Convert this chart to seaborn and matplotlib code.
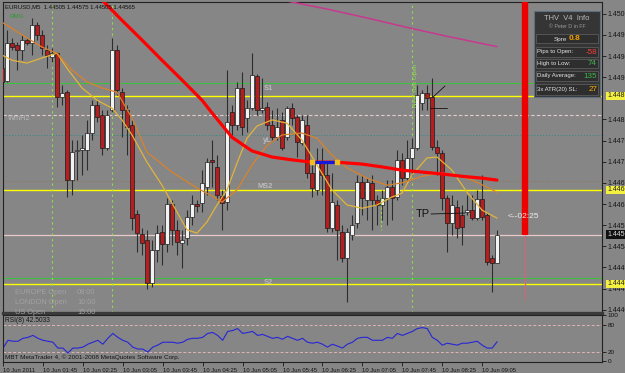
import numpy as np
import pandas as pd
import seaborn as sns
import matplotlib.pyplot as plt
from matplotlib.patches import Rectangle

# EURUSD M5 bars, 10 Jun 2011 from 01:05
opens = [1.44919, 1.44892, 1.44973, 1.44968, 1.44958, 1.44979, 1.44973, 1.45011, 1.44990, 1.44958,
         1.44943, 1.44951, 1.44858, 1.44868, 1.44681, 1.44743, 1.44745, 1.44745, 1.44781, 1.44841,
         1.44819, 1.44749, 1.44830, 1.44958, 1.44868, 1.44830, 1.44798, 1.44609, 1.44566, 1.44553,
         1.44462, 1.44532, 1.44570, 1.44545, 1.44630, 1.44575, 1.44547, 1.44558, 1.44602, 1.44630,
         1.44632, 1.44666, 1.44724, 1.44709, 1.44647, 1.44634, 1.44826, 1.44798, 1.44877, 1.44813,
         1.44834, 1.44902, 1.44830, 1.44836, 1.44798, 1.44772, 1.44809, 1.44772, 1.44834, 1.44815,
         1.44760, 1.44798, 1.44696, 1.44660, 1.44717, 1.44692, 1.44579, 1.44628, 1.44570, 1.44515,
         1.44564, 1.44589, 1.44677, 1.44638, 1.44675, 1.44638, 1.44628, 1.44643, 1.44666, 1.44645,
         1.44724, 1.44685, 1.44728, 1.44749, 1.44845, 1.44866, 1.44858, 1.44751, 1.44738, 1.44643,
         1.44589, 1.44624, 1.44607, 1.44613, 1.44617, 1.44600, 1.44641, 1.44607, 1.44515, 1.44505]
highs = [1.44926, 1.45000, 1.44983, 1.44975, 1.44990, 1.44983, 1.45026, 1.45017, 1.45000, 1.44968,
         1.44962, 1.44953, 1.44883, 1.44872, 1.44766, 1.44766, 1.44777, 1.44809, 1.44851, 1.44851,
         1.44830, 1.44830, 1.44983, 1.44968, 1.44877, 1.44841, 1.44809, 1.44617, 1.44579, 1.44575,
         1.44553, 1.44585, 1.44585, 1.44643, 1.44638, 1.44596, 1.44575, 1.44617, 1.44649, 1.44638,
         1.44702, 1.44728, 1.44766, 1.44734, 1.44660, 1.44915, 1.44841, 1.44890, 1.44911, 1.44851,
         1.44951, 1.44907, 1.44898, 1.44847, 1.44830, 1.44834, 1.44826, 1.44838, 1.44845, 1.44819,
         1.44819, 1.44819, 1.44713, 1.44749, 1.44749, 1.44717, 1.44696, 1.44638, 1.44585, 1.44579,
         1.44607, 1.44692, 1.44692, 1.44685, 1.44692, 1.44649, 1.44660, 1.44681, 1.44681, 1.44745,
         1.44738, 1.44766, 1.44770, 1.44883, 1.44872, 1.44883, 1.44898, 1.44766, 1.44745, 1.44649,
         1.44649, 1.44638, 1.44628, 1.44649, 1.44649, 1.44660, 1.44692, 1.44611, 1.44521, 1.44575]
lows = [1.44885, 1.44890, 1.44958, 1.44915, 1.44936, 1.44968, 1.44947, 1.44979, 1.44947, 1.44919,
        1.44932, 1.44836, 1.44841, 1.44645, 1.44649, 1.44681, 1.44692, 1.44702, 1.44766, 1.44804,
        1.44734, 1.44745, 1.44826, 1.44862, 1.44772, 1.44734, 1.44575, 1.44528, 1.44521, 1.44449,
        1.44453, 1.44506, 1.44500, 1.44528, 1.44543, 1.44521, 1.44494, 1.44543, 1.44585, 1.44613,
        1.44613, 1.44649, 1.44666, 1.44638, 1.44575, 1.44617, 1.44777, 1.44787, 1.44777, 1.44783,
        1.44830, 1.44819, 1.44824, 1.44787, 1.44766, 1.44766, 1.44745, 1.44766, 1.44798, 1.44730,
        1.44755, 1.44685, 1.44645, 1.44649, 1.44649, 1.44570, 1.44570, 1.44511, 1.44506, 1.44421,
        1.44553, 1.44579, 1.44607, 1.44596, 1.44575, 1.44585, 1.44596, 1.44585, 1.44596, 1.44638,
        1.44670, 1.44681, 1.44692, 1.44745, 1.44830, 1.44830, 1.44745, 1.44692, 1.44617, 1.44528,
        1.44564, 1.44558, 1.44543, 1.44607, 1.44596, 1.44596, 1.44596, 1.44500, 1.44443, 1.44505]
closes = [1.44890, 1.44973, 1.44964, 1.44958, 1.44979, 1.44973, 1.45011, 1.44990, 1.44962, 1.44947,
          1.44951, 1.44858, 1.44866, 1.44681, 1.44740, 1.44745, 1.44749, 1.44781, 1.44841, 1.44815,
          1.44749, 1.44819, 1.44958, 1.44872, 1.44830, 1.44794, 1.44600, 1.44568, 1.44547, 1.44462,
          1.44532, 1.44568, 1.44545, 1.44630, 1.44575, 1.44549, 1.44553, 1.44602, 1.44630, 1.44626,
          1.44675, 1.44719, 1.44719, 1.44649, 1.44632, 1.44804, 1.44798, 1.44877, 1.44794, 1.44834,
          1.44904, 1.44830, 1.44834, 1.44798, 1.44772, 1.44794, 1.44749, 1.44834, 1.44813, 1.44762,
          1.44809, 1.44696, 1.44664, 1.44717, 1.44692, 1.44579, 1.44634, 1.44575, 1.44515, 1.44570,
          1.44585, 1.44677, 1.44643, 1.44677, 1.44638, 1.44628, 1.44643, 1.44666, 1.44643, 1.44724,
          1.44685, 1.44728, 1.44749, 1.44862, 1.44866, 1.44855, 1.44751, 1.44738, 1.44643, 1.44589,
          1.44628, 1.44579, 1.44581, 1.44617, 1.44600, 1.44641, 1.44602, 1.44506, 1.44504, 1.44565]

rsi = [28.5, 45.6, 43.5, 43.5, 49.9, 52.0, 56.3, 49.9, 45.6, 43.5,
       41.3, 28.5, 28.5, 17.8, 28.5, 28.5, 30.6, 37.0, 41.3, 45.6,
       37.0, 49.9, 60.6, 52.0, 45.6, 41.3, 30.6, 26.3, 26.3, 19.9,
       30.6, 34.9, 41.3, 41.3, 41.3, 39.2, 41.3, 47.8, 49.9, 49.9,
       52.0, 60.6, 62.7, 56.3, 45.6, 64.9, 67.0, 71.3, 60.6, 62.7,
       64.9, 56.3, 58.5, 54.2, 49.9, 52.0, 47.8, 54.2, 49.9, 45.6,
       49.9, 41.3, 39.2, 41.3, 37.0, 30.6, 37.0, 32.8, 28.5, 37.0,
       41.3, 49.9, 52.0, 52.0, 45.6, 45.6, 45.6, 52.0, 49.9, 60.6,
       56.3, 60.6, 64.9, 71.3, 73.4, 71.3, 52.0, 45.6, 34.9, 39.2,
       37.0, 34.9, 39.2, 39.2, 41.3, 43.5, 34.9, 28.5, 28.5, 42.5]

# moving averages (bar index, price)
red_ma_bar = [19, 24, 28, 32, 36, 40, 42, 46, 50, 54, 58, 62, 67, 72, 76, 80, 84, 88, 92, 96, 99]
red_ma = [1.45075, 1.45021, 1.44979, 1.44936, 1.44894, 1.44851, 1.44824, 1.44772, 1.44743, 1.44730,
          1.44724, 1.44719, 1.44719, 1.44715, 1.44709, 1.44702, 1.44698, 1.44694, 1.44689, 1.44685, 1.44681]
flat_bar = [62, 67]
flat_ma = [1.44719, 1.44719]
pink_ma_bar = [57, 65, 73, 81, 89, 99]
pink_ma = [1.45062, 1.45045, 1.45026, 1.45006, 1.44987, 1.44965]
slow_bar = [0, 4, 8, 11, 14, 17, 20, 23, 26, 29, 34, 39, 42, 44, 47, 50, 53, 56, 60, 63,
            66, 69, 73, 77, 80, 84, 88, 91, 94, 97, 99]
slow_ma = [1.45017, 1.44990, 1.44964, 1.44951, 1.44915, 1.44890, 1.44877, 1.44868, 1.44813, 1.44740,
           1.44698, 1.44664, 1.44647, 1.44634, 1.44660, 1.44713, 1.44755, 1.44777, 1.44781, 1.44770,
           1.44734, 1.44707, 1.44685, 1.44670, 1.44675, 1.44689, 1.44696, 1.44692, 1.44681, 1.44666, 1.44655]
fast_bar = [0, 2, 5, 8, 11, 13, 16, 19, 22, 24, 26, 29, 32, 35, 37, 39, 41, 43, 45, 47,
            49, 51, 54, 57, 60, 63, 66, 69, 72, 75, 78, 80, 82, 85, 87, 90, 93, 96, 99]
fast_ma = [1.44947, 1.44936, 1.44930, 1.44941, 1.44951, 1.44919, 1.44877, 1.44851, 1.44834, 1.44809,
           1.44777, 1.44719, 1.44670, 1.44613, 1.44575, 1.44568, 1.44592, 1.44628, 1.44660, 1.44717,
           1.44770, 1.44796, 1.44809, 1.44802, 1.44766, 1.44713, 1.44660, 1.44628, 1.44621, 1.44628,
           1.44645, 1.44653, 1.44692, 1.44728, 1.44730, 1.44702, 1.44655, 1.44617, 1.44600]

# pivot / level lines
yellow_levels = [1.44860, 1.44660, 1.44460]
green_levels = [1.44887, 1.44472]
wmh_level = 1.44819
teal_level = 1.44777
brown_level = 1.44679
price_now = 1.44565
session_bars = [10, 22, 82]

price_ticks = [1.44405, 1.44450, 1.44495, 1.44540, 1.44585, 1.44630, 1.44675, 1.44720,
               1.44765, 1.44810, 1.44900, 1.44945, 1.44990, 1.45035]
time_bars = [0, 8, 16, 24, 32, 40, 48, 56, 64, 72, 80, 88, 96]
time_labels = ["10 Jun 2011", "10 Jun 01:45", "10 Jun 02:25", "10 Jun 03:05", "10 Jun 03:45",
               "10 Jun 04:25", "10 Jun 05:05", "10 Jun 05:45", "10 Jun 06:25", "10 Jun 07:05",
               "10 Jun 07:45", "10 Jun 08:25", "10 Jun 09:05"]

sns.set_style("white")
plt.rcParams["font.family"] = ["Liberation Sans", "DejaVu Sans"]

BG = "#868686"
W, H = 625, 373
fig = plt.figure(figsize=(W / 100, H / 100), dpi=100, facecolor=BG)
ax = fig.add_axes([3 / W, 1 - 313 / H, 599 / W, 311 / H], facecolor=BG)
ax_rsi = fig.add_axes([3 / W, 1 - 362 / H, 599 / W, 47 / H], facecolor=BG)

df = pd.DataFrame({"bar": np.arange(len(opens)), "open": opens, "high": highs,
                   "low": lows, "close": closes})
up = df["close"] >= df["open"]

# horizontal levels
for lv in yellow_levels:
    ax.axhline(lv, color="#ffff00", lw=1.0, zorder=1)
for lv in green_levels:
    ax.axhline(lv, color="#3fbf3f", lw=0.8, zorder=1)
ax.axhline(wmh_level, color="#e6cccc", lw=0.8, ls=(0, (3, 2)), zorder=1)
ax.axhline(teal_level, color="#2a8a8a", lw=0.7, ls=(0, (1, 2)), zorder=1)
ax.axhline(brown_level, color="#8f7556", lw=0.7, ls=(0, (1, 2)), zorder=1)
ax.axhline(price_now, color="#e9c9c9", lw=0.9, zorder=1)
for b in session_bars:
    ax.axvline(b, color="#8ee04a", lw=0.8, ls=(0, (2, 3)), zorder=1)

# candles
ax.vlines(df["bar"], df["low"], df["high"], color="#2d2d2d", lw=0.8, zorder=3)
body_lo = df[["open", "close"]].min(axis=1)
body_h = (df["close"] - df["open"]).abs().clip(lower=0.000025)
ax.bar(df["bar"], body_h, bottom=body_lo, width=0.62,
       color=np.where(up, "#f2f2f2", "#b41e1e"), edgecolor="#1b1b1b", linewidth=0.5, zorder=4)

# moving averages
sns.lineplot(x=fast_bar, y=fast_ma, ax=ax, color="#e2b43a", lw=0.9, zorder=5)
sns.lineplot(x=slow_bar, y=slow_ma, ax=ax, color="#d9822b", lw=0.9, zorder=5)
sns.lineplot(x=pink_ma_bar, y=pink_ma, ax=ax, color="#c8388e", lw=1.1, zorder=5)
sns.lineplot(x=red_ma_bar, y=red_ma, ax=ax, color="#ff0000", lw=2.3, zorder=6)
sns.lineplot(x=flat_bar, y=flat_ma, ax=ax, color="#1818d8", lw=2.3, zorder=7)
ax.scatter(flat_bar, flat_ma, s=5, marker="s", color="#f0c020", zorder=8)

# time marker bar
ax.vlines(104.6, price_now, 1.4507, color="#ee0000", lw=4.6, zorder=6)
ax.vlines(104.6, 1.44426, price_now, color="#c86a7a", lw=0.9, zorder=6)

ax.set_xlim(0.2, 120)
ax.set_ylim(1.44398, 1.45060)
ax.set_xticks([])
ax.yaxis.tick_right()
ax.set_yticks(price_ticks)
ax.set_yticklabels([f"{v:.5f}" for v in price_ticks])
ax.tick_params(axis="y", length=3, width=0.6, pad=1, labelsize=5, colors="#151515")
ax.set_xlabel("")
ax.set_ylabel("")
for s in ax.spines.values():
    s.set_color("#222222")
    s.set_linewidth(0.8)
ax.spines["bottom"].set_linewidth(2.4)
ax.spines["bottom"].set_color("#3a3a3a")

for lv, fc, tc in [(1.44860, "#f4f040", "#222222"), (1.44660, "#f4f040", "#222222"),
                   (1.44460, "#f4f040", "#222222"), (price_now, "#111111", "#dddddd")]:
    ax.annotate(f"{lv:.5f}", xy=(1.0, lv), xycoords=("axes fraction", "data"), xytext=(3.6, 0),
                textcoords="offset points", fontsize=5, va="center", ha="left", color=tc,
                bbox=dict(boxstyle="square,pad=0.12", fc=fc, ec="none"), annotation_clip=False,
                zorder=10)

# RSI panel
ax_rsi.axhline(80, color="#e2b4b4", lw=0.7, ls=(0, (3, 2)))
ax_rsi.axhline(20, color="#e2b4b4", lw=0.7, ls=(0, (3, 2)))
sns.lineplot(x=df["bar"], y=rsi, ax=ax_rsi, color="#2626d6", lw=0.8)
ax_rsi.set_xlim(0.2, 120)
ax_rsi.set_ylim(-2, 101)
ax_rsi.yaxis.tick_right()
ax_rsi.set_yticks([0, 20, 80, 100])
ax_rsi.set_yticklabels(["0", "20", "80", "100"])
ax_rsi.tick_params(axis="y", length=3, width=0.6, pad=1, labelsize=4.6, colors="#151515")
ax_rsi.set_xticks(time_bars)
ax_rsi.set_xticklabels(time_labels, ha="left")
ax_rsi.tick_params(axis="x", length=3, width=0.6, pad=1, labelsize=4.2, colors="#151515",
                   bottom=True)
ax_rsi.set_xlabel("")
ax_rsi.set_ylabel("")
for s in ax_rsi.spines.values():
    s.set_color("#222222")
    s.set_linewidth(0.8)

# overlay in pixel units for chart texts and drawn objects
ov = fig.add_axes([0, 0, 1, 1], zorder=20)
ov.set_xlim(0, W)
ov.set_ylim(H, 0)
ov.axis("off")
ov.patch.set_alpha(0)

ov.text(5, 7, "EURUSD,M5  1.44505 1.44575 1.44505 1.44565", fontsize=4.3, color="#111111", va="center")
ov.text(9, 17, "RMG", fontsize=4.5, color="#2f9a2f", va="center")
ov.text(8, 119, "WmH2", fontsize=5.3, color="#b8b8b8", va="center")
for t, x, y in [("S1", 264, 89), ("yL", 263, 140), ("MS2", 257, 186), ("S2", 264, 283)]:
    ov.text(x, y, t, fontsize=5.3, color="#bdbdbd", va="center", fontweight="bold")
for i, (a, b) in enumerate([("EUROPE Open", "08:00"), ("LONDON Open", "10:00"), ("US Open", "15:00")]):
    ov.text(15, 293 + 9.5 * i, a, fontsize=5.3, color="#a2a2a2", va="center")
    ov.text(77, 293 + 9.5 * i, b, fontsize=5.3, color="#a2a2a2", va="center")
ov.text(415, 85, "New York Open", fontsize=4.5, color="#8ee04a", rotation=90, va="center", ha="center")
ov.plot([381, 381], [198, 230], color="#8ee04a", lw=0.8, ls=(0, (2, 2)))
ov.text(508, 216, "<--02:25", fontsize=6, color="#ececec", va="center")

# hand drawn marks
ov.text(416, 214, "TP", fontsize=8, color="#111111", va="center", fontweight="light")
ov.plot([431, 465], [214, 213], color="#111111", lw=0.6)
ov.plot([430, 447], [108, 108], color="#111111", lw=0.6)
ov.plot([433, 445], [97, 86], color="#111111", lw=0.6)

# info panel
ov.add_patch(Rectangle((534, 11), 66, 86, fc="#353535", ec="#5e6e7e", lw=0.8))
ov.text(567, 18, "THV  V4  Info", fontsize=5.4, color="#bcbcbc", ha="center", va="center")
ov.text(567, 26, "© Peter D in FF", fontsize=3.8, color="#9a9a9a", ha="center", va="center")
rows = [(34, 43), (47, 57), (59, 68), (71, 81), (84, 95)]
for y0, y1 in rows:
    ov.add_patch(Rectangle((536, y0), 62, y1 - y0, fc="#2e2e2e", ec="#5a5a5a", lw=0.6))
ov.text(554, 39, "Spre", fontsize=4.6, color="#dddddd", va="center")
ov.text(569, 39, "0.8", fontsize=6, color="#f0a000", va="center", fontweight="bold")
info = [("Pips to Open:", "-58", "#ff3c3c"), ("High to Low:", "74", "#3cb84a"),
        ("Daily Average:", "135", "#3cb84a"), ("3x ATR(20) SL:", "27", "#ffb000")]
for (y0, y1), (lab, val, col) in zip(rows[1:], info):
    ov.text(537, (y0 + y1) / 2, lab, fontsize=4.3, color="#e4e4e4", va="center")
    ov.text(597, (y0 + y1) / 2, val, fontsize=5.8, color=col, va="center", ha="right")

ov.text(5, 320, "RSI(8) 42.5033", fontsize=4.8, color="#151515", va="center")
ov.text(5, 357, "MBT MetaTrader 4, © 2001-2008 MetaQuotes Software Corp.", fontsize=4.6,
        color="#151515", va="center")

fig.savefig("out.png", dpi=100, facecolor=BG)
